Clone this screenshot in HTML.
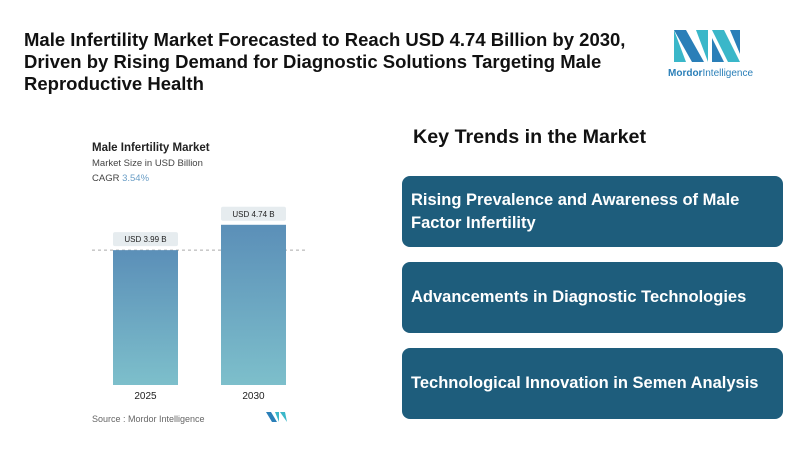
<!DOCTYPE html>
<html><head><meta charset="utf-8"><style>
body{margin:0;width:800px;height:456px;background:#fff;font-family:"Liberation Sans",sans-serif;position:relative;overflow:hidden}
.t{position:absolute;left:24px;top:29px;font-size:18.5px;font-weight:bold;line-height:22px;color:#111;width:625px}
.box{position:absolute;left:402px;width:381px;height:71px;background:#1e5d7c;border-radius:8px;color:#fff;font-weight:bold;font-size:16.5px;display:flex;align-items:center;padding-left:9px;padding-right:8px;box-sizing:border-box;line-height:23px}
</style></head><body>
<div class="t">Male Infertility Market Forecasted to Reach USD 4.74 Billion by 2030, Driven by Rising Demand for Diagnostic Solutions Targeting Male Reproductive Health</div>
<svg style="position:absolute;left:668px;top:26px" width="120" height="58">
<polygon points="6,4 18,4 36,36 24,36" fill="#2a7fb8"/><polygon points="6,4 6,36 18,36" fill="#3ab7c9"/>
<polygon points="28,4 40,4 40,36" fill="#3ab7c9"/><polygon points="44,4 56,4 72,36 60,36" fill="#3ab7c9"/><polygon points="62,4 72,4 72,28" fill="#2a7fb8"/><polygon points="44,12 44,36 56,36" fill="#2a7fb8"/>
<text x="0" y="50" font-size="10" fill="#2a7fb8" font-family="Liberation Sans" font-weight="bold">Mordor<tspan font-weight="normal">Intelligence</tspan></text>
</svg>
<svg id="c" style="position:absolute;left:0;top:0" width="400" height="456">
<defs><linearGradient id="g" x1="0" y1="0" x2="0" y2="1"><stop offset="0" stop-color="#5b8fb8"/><stop offset="1" stop-color="#7dbfcb"/></linearGradient></defs>
<text x="92" y="151" font-size="11.5" font-weight="bold" fill="#222">Male Infertility Market</text>
<text x="92" y="166" font-size="9.5" fill="#444">Market Size in USD Billion</text>
<text x="92" y="181" font-size="9.5" fill="#444">CAGR <tspan fill="#6a9ec6">3.54%</tspan></text>
<text x="92" y="422" font-size="9" fill="#666">Source :  Mordor Intelligence</text>
<g transform="translate(266,412)"><polygon points="0,0 5,0 11,10 6,10" fill="#2a7fb8"/><polygon points="9,0 13,0 13,10" fill="#3ab7c9"/><polygon points="14,0 19,0 21,10" fill="#3ab7c9"/></g>
</svg>
<div class="box" style="top:176px">Rising Prevalence and Awareness of Male Factor Infertility</div>
<div class="box" style="top:262px">Advancements in Diagnostic Technologies</div>
<div class="box" style="top:348px">Technological Innovation in Semen Analysis</div>
<div style="position:absolute;left:413px;top:126px;font-size:19.7px;font-weight:bold;color:#111">Key Trends in the Market</div>
<script>
const categories=["2025","2030"];
const values=[3.99,4.74];
const labels=["USD 3.99 B","USD 4.74 B"];
const svg=document.getElementById('c');const NS="http://www.w3.org/2000/svg";
const base=385,k=33.8,x0=113,step=108,bw=65;
const y=v=>base-v*k;
function mk(t,a){const e=document.createElementNS(NS,t);for(const n in a)e.setAttribute(n,a[n]);svg.appendChild(e);return e;}
const dl=mk('line',{x1:92,x2:308,y1:y(values[0]),y2:y(values[0]),stroke:'#aaa','stroke-dasharray':'3,3'});


values.forEach((v,i)=>{const x=x0+i*step;
const r=mk('rect',{x:x,y:y(v),width:bw,height:base-y(v),fill:'url(#g)'});


const lb=mk('rect',{x:x,y:y(v)-18,width:bw,height:14,rx:2,fill:'#e6ecef'});


const t=mk('text',{x:x+bw/2,y:y(v)-8,'font-size':8,'text-anchor':'middle',fill:'#222'});t.textContent=labels[i];


const c=mk('text',{x:x+bw/2,y:base+14,'font-size':10,'text-anchor':'middle',fill:'#222'});c.textContent=categories[i];


});
</script>
</body></html>
